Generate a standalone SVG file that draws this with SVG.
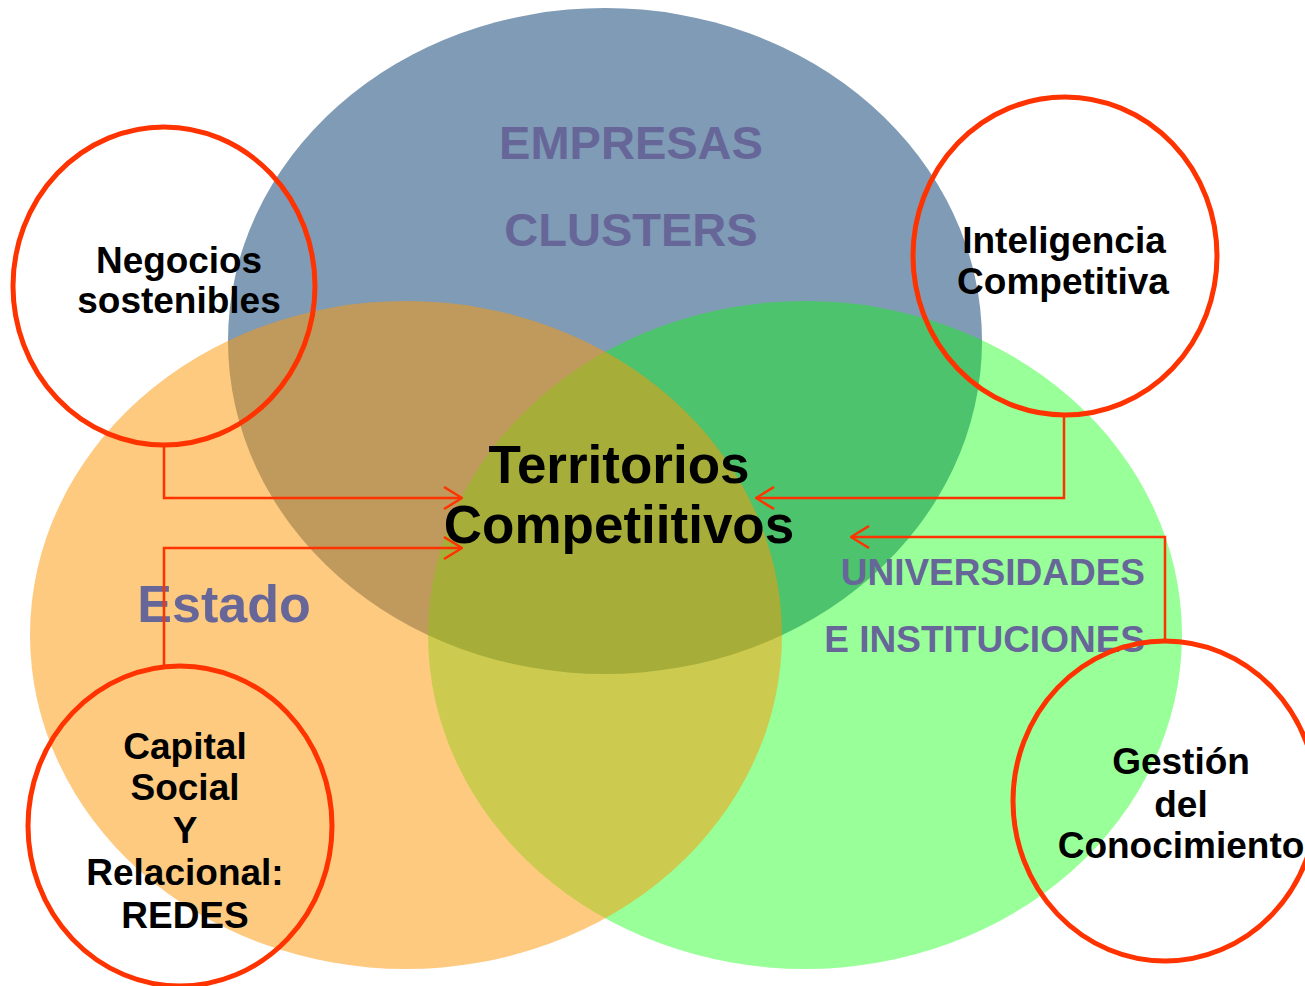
<svg xmlns="http://www.w3.org/2000/svg" width="1305" height="986" viewBox="0 0 1305 986">
<defs>
<style>
.t{font-family:"Liberation Sans",Arial,sans-serif;font-weight:bold;text-anchor:middle}
.lbl{fill:#666699}
.nd{fill:#000;font-size:37px}
.ring{fill:none;stroke:#ff3300;stroke-width:5}
.con{fill:none;stroke:#ff3300;stroke-width:2.5}
</style>
<marker id="ah" viewBox="0 0 20 24" refX="19" refY="12" markerWidth="20" markerHeight="24" markerUnits="userSpaceOnUse" orient="auto">
<path d="M1,1 L19,12 L1,23" fill="none" stroke="#ff3300" stroke-width="2.5"/>
</marker>
</defs>
<rect width="1305" height="986" fill="#fff"/>
<g id="empresas">
<ellipse cx="605" cy="341" rx="377" ry="333" fill="#7f9bb5"/>
<text class="t lbl" x="631" y="159" font-size="47">EMPRESAS</text>
<text class="t lbl" x="631" y="246" font-size="47">CLUSTERS</text>
</g>
<g id="universidades">
<ellipse cx="805" cy="635" rx="377" ry="334" fill="#00ff00" fill-opacity="0.4"/>
<text class="t lbl" x="1145" y="585" font-size="37" style="text-anchor:end">UNIVERSIDADES</text>
<text class="t lbl" x="1145" y="652" font-size="37" style="text-anchor:end">E INSTITUCIONES</text>
</g>
<g id="estado">
<ellipse cx="406" cy="635" rx="376" ry="334" fill="#fb9809" fill-opacity="0.516"/>
<text class="t lbl" x="224" y="622" font-size="52">Estado</text>
</g>
<g id="connectors">
<path class="con" d="M164,445 V498 H462" marker-end="url(#ah)"/>
<path class="con" d="M164,667 V548 H462" marker-end="url(#ah)"/>
<path class="con" d="M1064,415 V498 H756" marker-end="url(#ah)"/>
<path class="con" d="M1165,641 V537 H851" marker-end="url(#ah)"/>
</g>
<g id="negocios">
<ellipse class="ring" cx="164" cy="286" rx="151" ry="159"/>
<text class="t nd" x="179" y="273" textLength="166" lengthAdjust="spacingAndGlyphs">Negocios</text>
<text class="t nd" x="179" y="313">sostenibles</text>
</g>
<g id="inteligencia">
<ellipse class="ring" cx="1065" cy="256" rx="152" ry="159"/>
<text class="t nd" x="1064" y="253">Inteligencia</text>
<text class="t nd" x="1063" y="294">Competitiva</text>
</g>
<g id="capital">
<ellipse class="ring" cx="180" cy="826" rx="152" ry="160"/>
<text class="t nd" x="185" y="759">Capital</text>
<text class="t nd" x="185" y="800">Social</text>
<text class="t nd" x="185" y="843">Y</text>
<text class="t nd" x="185" y="885">Relacional:</text>
<text class="t nd" x="185" y="928">REDES</text>
</g>
<g id="gestion">
<ellipse class="ring" cx="1165" cy="801" rx="152" ry="160"/>
<text class="t nd" x="1181" y="774">Gestión</text>
<text class="t nd" x="1181" y="817">del</text>
<text class="t nd" x="1181" y="858">Conocimiento</text>
</g>
<g id="territorios">
<text class="t" x="619" y="483" font-size="53" fill="#000">Territorios</text>
<text class="t" x="619" y="543" font-size="53" fill="#000">Competiitivos</text>
</g>
</svg>
